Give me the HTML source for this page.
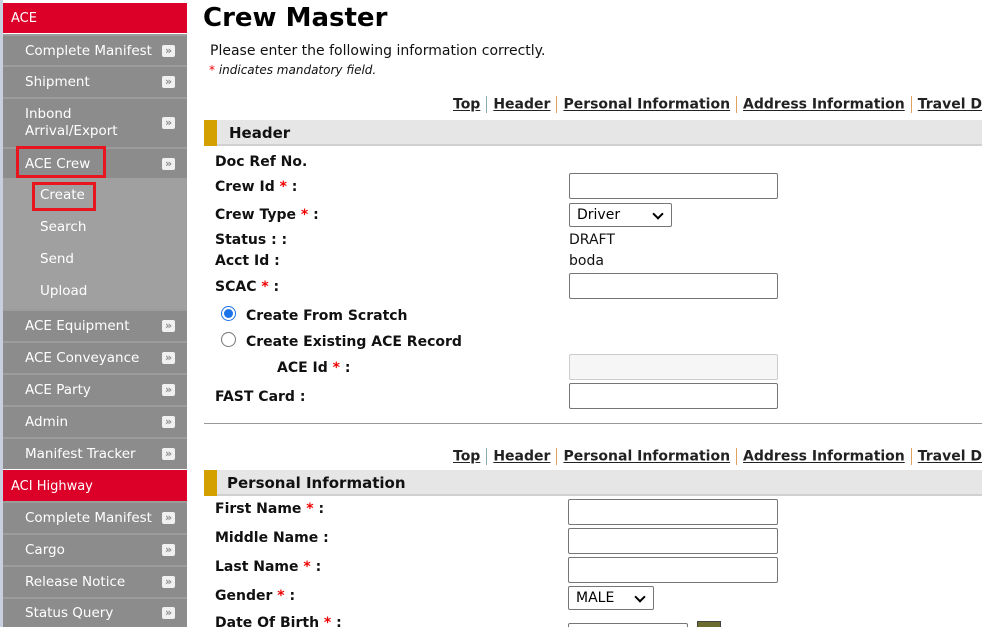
<!DOCTYPE html>
<html><head><meta charset="utf-8"><style>
*{margin:0;padding:0;box-sizing:border-box}
html,body{width:982px;height:627px;overflow:hidden}
body{background:#fff;font-family:"DejaVu Sans","Liberation Sans",sans-serif;position:relative}
.a{position:absolute;white-space:nowrap}
#sb{position:absolute;left:0;top:0;width:3px;height:627px;background:#c8d0e0}
.red{position:absolute;left:3px;width:184px;background:#dc0028;color:#fff;font-size:13px;padding-left:8px;display:flex;align-items:center}
.it{position:absolute;left:3px;width:184px;background:#8c8c8c;color:#fff;font-size:13.5px;padding-left:22px;display:flex;align-items:center;border-top:2px solid #9c9c9c}
.it i{position:absolute;right:12px;top:50%;margin-top:-6px;width:13px;height:12px;background:#f0f0f0;border-radius:2px;font-style:normal;color:#8c8c8c;font-size:11px;line-height:11px;text-align:center;font-weight:bold}
.sub{position:absolute;left:3px;width:184px;background:#a0a0a0}
.sub span{position:absolute;left:37px;color:#fff;font-size:13.5px}
.box{position:absolute;border:3px solid #e8141e}
.lbl{position:absolute;font-weight:bold;font-size:14px;color:#111;white-space:nowrap}
.s{color:#e00}
.inp{position:absolute;left:569px;width:209px;height:26px;border:1px solid #767676;border-radius:2px;background:#fff}
.navw{position:absolute;left:453px;width:529px;height:22px;overflow:hidden}
.nav{position:absolute;left:0;top:0;font-size:14px;font-weight:bold;white-space:nowrap;color:#222}
.nav u{color:#222}
.nav b{display:inline-block;width:1px;height:17px;background:#e0a060;vertical-align:middle;margin:0 6px}
.nav b.bl{background:#8ab}
.bar{position:absolute;left:204px;width:778px;height:26px;background:#e6e6e6;border-bottom:2px solid #d0d0d0}
.bar:before{content:"";position:absolute;left:0;top:0;width:13px;height:26px;background:#d4a000}
.bar span{position:absolute;left:25px;top:4px;font-weight:bold;font-size:15px;color:#111}
.sel{position:absolute;left:569px;border:1px solid #767676;border-radius:2px;background:#fff;font-size:14px;padding-left:7px;line-height:23px;height:24px}
.sel:after{content:"";position:absolute;right:9px;top:6px;width:6px;height:6px;border-right:2px solid #000;border-bottom:2px solid #000;transform:rotate(45deg)}
</style></head><body>
<div id="sb"></div>
<div class="red" style="top:3px;height:30px">ACE</div>
<div class="it" style="top:34px;height:31px">Complete Manifest<i>»</i></div>
<div class="it" style="top:65px;height:32px">Shipment<i>»</i></div>
<div class="it" style="top:97px;height:50px;line-height:17px">Inbond<br>Arrival/Export<i>»</i></div>
<div class="it" style="top:147px;height:31px">ACE Crew<i>»</i></div>
<div class="sub" style="top:178px;height:131px">
<span style="top:9px">Create</span><span style="top:41px">Search</span><span style="top:73px">Send</span><span style="top:105px">Upload</span></div>
<div class="it" style="top:309px;height:32px">ACE Equipment<i>»</i></div>
<div class="it" style="top:341px;height:32px">ACE Conveyance<i>»</i></div>
<div class="it" style="top:373px;height:32px">ACE Party<i>»</i></div>
<div class="it" style="top:405px;height:32px">Admin<i>»</i></div>
<div class="it" style="top:437px;height:32px">Manifest Tracker<i>»</i></div>
<div class="red" style="top:470px;height:31px;padding-top:2px">ACI Highway</div>
<div class="it" style="top:501px;height:32px">Complete Manifest<i>»</i></div>
<div class="it" style="top:533px;height:32px">Cargo<i>»</i></div>
<div class="it" style="top:565px;height:32px">Release Notice<i>»</i></div>
<div class="it" style="top:597px;height:30px">Status Query<i>»</i></div>
<div class="box" style="left:16px;top:146px;width:90px;height:32px"></div>
<div class="box" style="left:32px;top:182px;width:64px;height:29px"></div>

<div class="a" style="left:203px;top:3px;font-size:26px;font-weight:bold;color:#000">Crew Master</div>
<div class="a" style="left:210px;top:43px;font-size:14px;color:#111">Please enter the following information correctly.</div>
<div class="a" style="left:209px;top:63px;font-size:12px;font-style:italic;color:#111"><span class="s">*</span> indicates mandatory field.</div>

<div class="navw" style="top:96px"><div class="nav"><u>Top</u><b class="bl"></b><u>Header</u><b></b><u>Personal Information</u><b></b><u>Address Information</u><b></b><u>Travel Documents</u></div></div>
<div class="bar" style="top:120px"><span>Header</span></div>
<div class="lbl" style="left:215px;top:154px">Doc Ref No.</div>
<div class="lbl" style="left:215px;top:179px">Crew Id <span class="s">*</span> :</div>
<div class="inp" style="top:173px"></div>
<div class="lbl" style="left:215px;top:207px">Crew Type <span class="s">*</span> :</div>
<div class="sel" style="top:203px;width:103px">Driver</div>
<div class="lbl" style="left:215px;top:232px">Status : :</div>
<div class="a" style="left:569px;top:232px;font-size:14px;color:#111">DRAFT</div>
<div class="lbl" style="left:215px;top:253px">Acct Id :</div>
<div class="a" style="left:569px;top:253px;font-size:14px;color:#111">boda</div>
<div class="lbl" style="left:215px;top:279px">SCAC <span class="s">*</span> :</div>
<div class="inp" style="top:273px"></div>
<div class="a" style="left:221px;top:306px;width:15px;height:15px;border-radius:50%;border:1px solid #1a73e8;background:#fff"><div style="position:absolute;left:2px;top:2px;width:9px;height:9px;border-radius:50%;background:#1a73e8"></div></div>
<div class="lbl" style="left:246px;top:308px">Create From Scratch</div>
<div class="a" style="left:221px;top:332px;width:15px;height:15px;border-radius:50%;border:1px solid #767676;background:#fff"></div>
<div class="lbl" style="left:246px;top:334px">Create Existing ACE Record</div>
<div class="lbl" style="left:277px;top:360px">ACE Id <span class="s">*</span> :</div>
<div class="inp" style="top:354px;background:#f6f6f6;border-color:#ccc"></div>
<div class="lbl" style="left:215px;top:389px">FAST Card :</div>
<div class="inp" style="top:383px"></div>
<div class="a" style="left:204px;top:423px;width:778px;height:1px;background:#999"></div>

<div class="navw" style="top:448px"><div class="nav"><u>Top</u><b class="bl"></b><u>Header</u><b></b><u>Personal Information</u><b></b><u>Address Information</u><b></b><u>Travel Documents</u></div></div>
<div class="bar" style="top:470px"><span style="left:23px">Personal Information</span></div>
<div class="lbl" style="left:215px;top:501px">First Name <span class="s">*</span> :</div>
<div class="inp" style="top:499px;left:568px;width:210px"></div>
<div class="lbl" style="left:215px;top:530px">Middle Name :</div>
<div class="inp" style="top:528px;left:568px;width:210px"></div>
<div class="lbl" style="left:215px;top:559px">Last Name <span class="s">*</span> :</div>
<div class="inp" style="top:557px;left:568px;width:210px"></div>
<div class="lbl" style="left:215px;top:588px">Gender <span class="s">*</span> :</div>
<div class="sel" style="top:586px;left:568px;width:86px">MALE</div>
<div class="lbl" style="left:215px;top:615px">Date Of Birth <span class="s">*</span> :</div>
<div class="a" style="left:568px;top:623px;width:120px;height:4px;border:1px solid #767676;border-bottom:none;border-radius:2px 2px 0 0"></div>
<div class="a" style="left:697px;top:621px;width:24px;height:6px;background:#6b6b2e;border:1px solid #444;border-bottom:none"></div>
</body></html>
